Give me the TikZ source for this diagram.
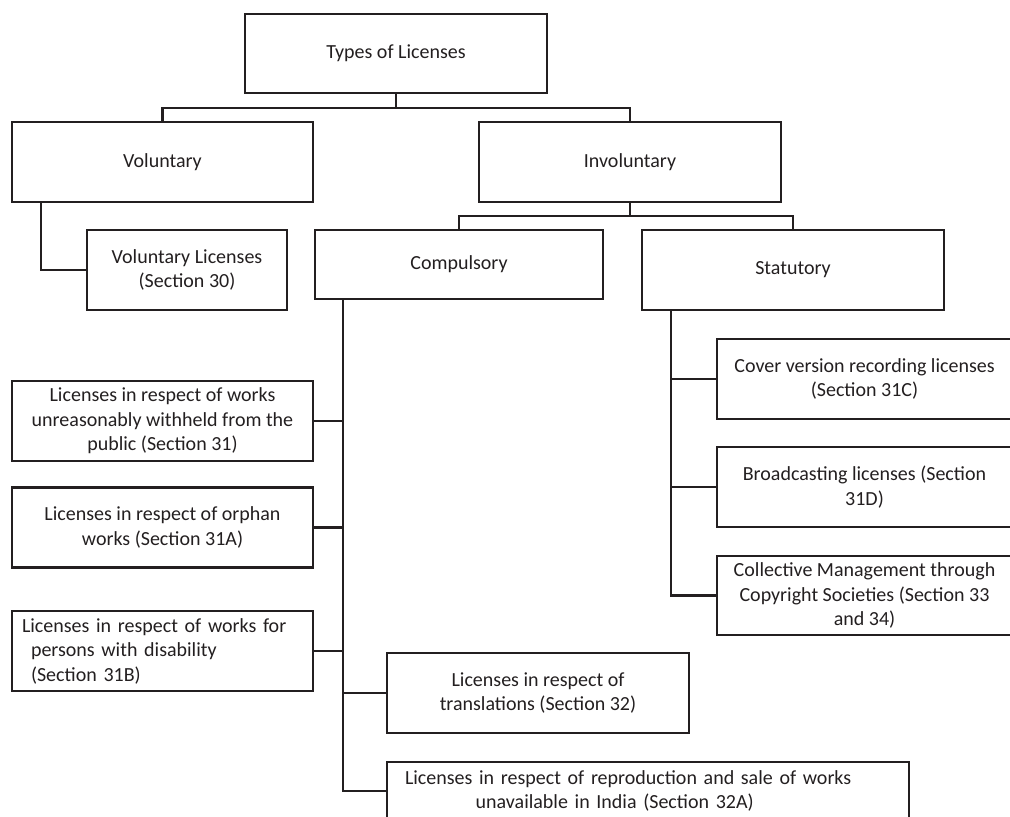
\documentclass[tikz,border=0pt]{standalone}
\usepackage{fontspec}
\setmainfont{Carlito}
\usetikzlibrary{positioning}
\definecolor{ink}{HTML}{231F20}
\newcommand{\pxl}{0.75pt}

\begin{document}
\begin{tikzpicture}
    [
        x=0.75pt, y=-0.75pt,
        every node/.style={font=\fontsize{15}{18.4}\selectfont, text=ink},
        box/.style={rectangle, draw=ink, line width=1.6pt, align=center, inner sep=0pt, minimum width=301*\pxl, minimum height=80*\pxl},
        leftbox/.style={box, align=left, inner xsep=#1*\pxl},
        link/.style={draw=ink, line width=1.6pt},
    ]
    \clip[use as bounding box] (0,0) rectangle (1010,817);
    % top levels
    \node (types) at (396,53.5) [box, minimum width=302*\pxl, minimum height=79*\pxl] {Types of Licenses};
    \node (vol) at (162.5,162) [box] {Voluntary};
    \node (invol) at (630,162) [box, minimum width=302*\pxl] {Involuntary};
    \node (vlic) at (187,270) [box, minimum width=200*\pxl] {Voluntary Licenses\\(Section 30)};
    \node (comp) at (459,264.5) [box, minimum width=288*\pxl, minimum height=69*\pxl] {Compulsory};
    \node (stat) at (793,270) [box, minimum width=302*\pxl] {Statutory};
    % compulsory licenses
    \node (wk1) at (162.5,421) [box] {Licenses in respect of works\\unreasonably withheld from the\\public (Section 31)};
    \node (wk2) at (162.5,527.5) [box] {Licenses in respect of orphan\\works (Section 31A)};
    \node (wk3) at (162.5,651) [leftbox=10, text width=281*\pxl] {Licenses in respect of works for\\\hspace*{6.75pt}persons with disability\\\hspace*{6.75pt}(Section 31B)};
    \node (trans) at (538,693) [box, minimum width=302*\pxl] {Licenses in respect of\\translations (Section 32)};
    \node (repro) at (648,791) [leftbox=18, text width=486*\pxl, minimum height=58*\pxl] {Licenses in respect of reproduction and sale of works\\\hspace*{53pt}unavailable in India (Section 32A)};
    % statutory licenses
    \node (cover) at (864.5,379) [box, minimum width=295*\pxl] {Cover version recording licenses\\(Section 31C)};
    \node (broad) at (864.5,487) [box, minimum width=295*\pxl] {Broadcasting licenses (Section\\31D)};
    \node (coll) at (864.5,595.5) [box, minimum width=295*\pxl, minimum height=79*\pxl] {Collective Management through\\Copyright Societies (Section 33\\and 34)};
    % connectors
    \coordinate (topbus) at (396,108);
    \draw[link] (types.south) -- (topbus);
    \draw[link] (vol.north) |- (topbus) -| (invol.north);
    \coordinate (invbus) at (630,216);
    \draw[link] (invol.south) -- (invbus);
    \draw[link] (comp.north) |- (invbus) -| (stat.north);
    \draw[link] (vol.south west) ++(30,0) |- (vlic.west);
    \coordinate (cspine) at ([xshift=29*\pxl]comp.south west);
    \draw[link] (cspine) |- (repro.west);
    \foreach \n in {wk1,wk2,wk3}
        \draw[link] (\n.east) -- (\n.east -| cspine);
    \draw[link] (trans.west) -- (trans.west -| cspine);
    \coordinate (sspine) at ([xshift=30*\pxl]stat.south west);
    \draw[link] (sspine) |- (coll.west);
    \foreach \n in {cover,broad}
        \draw[link] (\n.west) -- (\n.west -| sspine);
\end{tikzpicture}
\end{document}
